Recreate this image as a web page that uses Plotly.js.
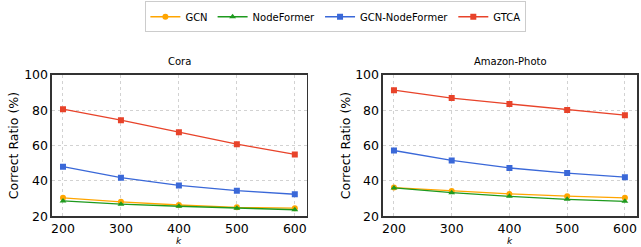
<!DOCTYPE html>
<html>
<head>
<meta charset="utf-8">
<script src="https://cdn.plot.ly/plotly-3.0.1.min.js"></script>
<style>html,body{margin:0;padding:0;background:#fff;}#chart{width:641px;height:247px;}</style>
</head>
<body>
<div id="chart"></div>
<script>
const kValues = [200, 300, 400, 500, 600];
const seriesNames = ["GCN", "NodeFormer", "GCN-NodeFormer", "GTCA"];
const coraGCN = [30.4, 28.1, 26.3, 25.0, 24.5];
const coraNodeFormer = [28.6, 26.8, 25.6, 24.5, 23.6];
const coraGCNNodeFormer = [48.0, 41.8, 37.4, 34.4, 32.4];
const coraGTCA = [80.6, 74.4, 67.6, 60.8, 55.0];
const photoGCN = [36.2, 34.2, 32.6, 31.3, 30.4];
const photoNodeFormer = [36.0, 33.3, 31.2, 29.5, 28.4];
const photoGCNNodeFormer = [57.2, 51.6, 47.3, 44.4, 42.1];
const photoGTCA = [91.4, 86.9, 83.6, 80.2, 77.2];
const subplotTitles = ["Cora", "Amazon-Photo"];
const xTitle = "k";

const colors = ["#FFA500", "#1E9A1E", "#3A68D8", "#E8432A"];
const symbols = ["circle", "triangle-up", "square", "square"];
const sizes = [6, 6, 6, 6];

const font = "DejaVu Sans, sans-serif";
const traces = [];
const groups = [
  [coraGCN, coraNodeFormer, coraGCNNodeFormer, coraGTCA],
  [photoGCN, photoNodeFormer, photoGCNNodeFormer, photoGTCA]
];
groups.forEach((g, gi) => {
  g.forEach((vals, si) => {
    traces.push({
      x: kValues, y: vals, type: "scatter", mode: "lines+markers",
      name: seriesNames[si], legendgroup: seriesNames[si], showlegend: gi === 0,
      xaxis: gi === 0 ? "x" : "x2", yaxis: gi === 0 ? "y" : "y2",
      line: {color: colors[si], width: 1.3},
      marker: {color: colors[si], symbol: symbols[si], size: sizes[si]}
    });
  });
});

const dom1 = [0.0811, 0.4789], dom2 = [0.5975, 0.9938];
function xax(domain, anchor) {
  return {
    domain: domain, anchor: anchor, range: [181, 621],
    tickvals: kValues, ticks: "", showgrid: true, gridcolor: "#d2d2d2", griddash: "dot", gridwidth: 1,
    showline: true, mirror: true, linecolor: "#333", linewidth: 1.5, zeroline: false,
    tickfont: {family: font, size: 12.5, color: "#000"}
  };
}
function yax(anchor) {
  return {
    domain: [0.125, 0.6964], anchor: anchor, range: [20, 100],
    tickvals: [20, 40, 60, 80, 100], ticks: "", showgrid: true, gridcolor: "#d2d2d2", griddash: "dot", gridwidth: 1,
    showline: true, mirror: true, linecolor: "#333", linewidth: 1.5, zeroline: false,
    tickfont: {family: font, size: 12.5, color: "#000"},
    title: {text: "Correct Ratio (%)", font: {family: font, size: 12.5, color: "#000"}, standoff: 2}
  };
}

const ann = (text, x, y, xa, ya, size, extra) => Object.assign({
  text: text, xref: "paper", yref: "paper", x: x, y: y, xanchor: xa, yanchor: ya,
  showarrow: false, font: {family: font, size: size, color: "#000"}
}, extra || {});

const layout = {
  width: 641, height: 247,
  margin: {l: 0, r: 0, t: 0, b: 0},
  paper_bgcolor: "#fff", plot_bgcolor: "#fff",
  font: {family: font, size: 10, color: "#000"},
  showlegend: true,
  legend: {
    orientation: "h", x: 0.524, xanchor: "center", y: 0.995, yanchor: "top",
    bordercolor: "#cccccc", borderwidth: 1, font: {family: font, size: 10, color: "#000"},
    itemwidth: 30, tracegroupgap: 0
  },
  xaxis: xax(dom1, "y"),
  yaxis: yax("x"),
  xaxis2: xax(dom2, "y2"),
  yaxis2: yax("x2"),
  annotations: [
    ann(subplotTitles[0], (dom1[0] + dom1[1]) / 2, 0.75, "center", "middle", 10),
    ann(subplotTitles[1], (dom2[0] + dom2[1]) / 2, 0.75, "center", "middle", 10),
    ann("<i>" + xTitle + "</i>", (dom1[0] + dom1[1]) / 2, 0, "center", "bottom", 9, {borderpad: 0}),
    ann("<i>" + xTitle + "</i>", (dom2[0] + dom2[1]) / 2, 0, "center", "bottom", 9, {borderpad: 0})
  ]
};

Plotly.newPlot("chart", traces, layout, {displayModeBar: false, staticPlot: true});
</script>
</body>
</html>
